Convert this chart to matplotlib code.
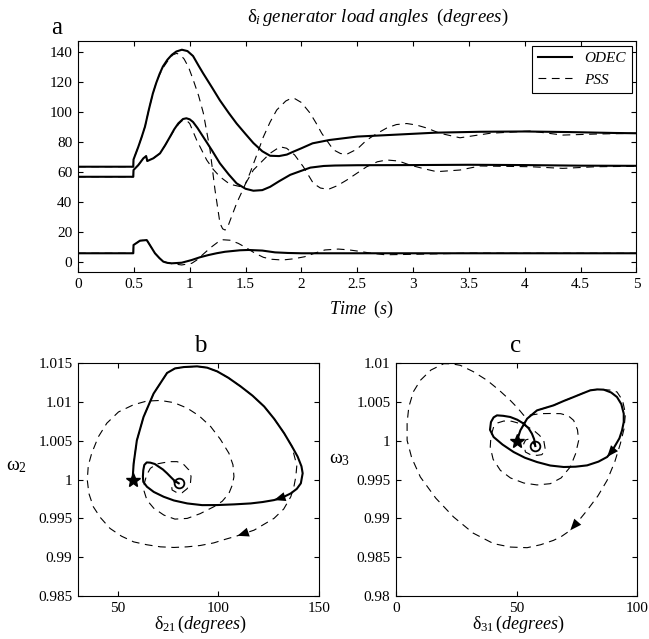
import matplotlib
matplotlib.use("Agg")
import matplotlib.pyplot as plt

plt.rcParams['font.family'] = ['Liberation Serif', 'DejaVu Serif']
plt.rcParams['mathtext.fontset'] = 'custom'
plt.rcParams['mathtext.rm'] = 'Liberation Serif'
plt.rcParams['mathtext.it'] = 'Liberation Serif:italic'
plt.rcParams['xtick.direction'] = 'in'
plt.rcParams['ytick.direction'] = 'in'
plt.rcParams['xtick.top'] = True
plt.rcParams['ytick.right'] = True
plt.rcParams['axes.linewidth'] = 0.8

# ---- panel a: load angles vs time ----
t_up_odec = [0, 0.495, 0.497, 0.54, 0.57, 0.6, 0.635, 0.67, 0.7, 0.73, 0.76, 0.8, 0.84,
             0.88, 0.93, 0.98, 1.03, 1.08, 1.12, 1.2, 1.27, 1.35, 1.42, 1.5, 1.57, 1.65,
             1.72, 1.8, 1.87, 1.93, 2.0, 2.1, 2.25, 2.5, 2.8, 3.2, 3.6, 4.0, 4.4, 4.8, 5.0]
d_up_odec = [63.2, 63.2, 68, 76.5, 83, 90, 101.5, 112, 119, 125, 130, 134.5, 137.8,
             140, 141.2, 140.3, 137, 130.5, 125.5, 116, 107.5, 99, 92, 85, 79, 73.5,
             70.5, 70.3, 71.3, 73.3, 75.5, 78.8, 81, 83.3, 84.4, 85.9, 86.5, 86.7, 86.3,
             85.7, 85.5]

t_mid_odec = [0, 0.495, 0.497, 0.54, 0.585, 0.61, 0.62, 0.674, 0.734, 0.78, 0.824, 0.86,
              0.898, 0.94, 0.97, 1.0, 1.03, 1.07, 1.12, 1.2, 1.27, 1.35, 1.42, 1.5, 1.57,
              1.65, 1.72, 1.8, 1.9, 2.0, 2.08, 2.2, 2.3, 2.5, 3.0, 3.5, 4.0, 4.5, 5.0]
d_mid_odec = [56.5, 56.5, 61, 64.3, 68.8, 70.3, 67, 68.8, 72.1, 77.5, 83.2, 88,
              92.1, 95, 95.5, 94.8, 93, 89, 83.2, 74, 65.5, 58, 52.1, 48.5, 47.2,
              47.6, 49.8, 53.5, 57.8, 60.5, 62.6, 63.7, 64, 64.2, 64.3, 64.5, 64.3, 63.9, 63.8]

t_low_odec = [0, 0.495, 0.497, 0.555, 0.615, 0.62, 0.689, 0.73, 0.764, 0.8, 0.839, 0.928,
              1.018, 1.09, 1.167, 1.24, 1.316, 1.45, 1.525, 1.65, 1.764, 1.88, 2.0, 2.5,
              3.0, 4.0, 5.0]
d_low_odec = [5.5, 5.5, 11, 13.9, 14.3, 13.8, 5.5, 2.2, -0.1, -0.9, -1.2, -0.8,
              1, 2.8, 4.3, 5.5, 6.5, 7.5, 7.7, 7.3, 6.1, 5.7, 5.5, 5.5,
              5.5, 5.5, 5.5]

t_up_pss = [0, 0.495, 0.497, 0.54, 0.57, 0.6, 0.635, 0.67, 0.7, 0.73, 0.76, 0.82, 0.85,
            0.884, 0.92, 0.95, 0.99, 1.032, 1.08, 1.122, 1.182, 1.226, 1.271, 1.295,
            1.317, 1.34, 1.36, 1.421, 1.48, 1.54, 1.6, 1.659, 1.72, 1.779, 1.86, 1.9,
            1.943, 2.0, 2.077, 2.13, 2.182, 2.286, 2.35, 2.406, 2.5, 2.585, 2.68, 2.764,
            2.85, 2.943, 3.03, 3.122, 3.24, 3.42, 3.69, 4.05, 4.34, 4.64, 5.0]
d_up_pss = [63.2, 63.2, 68, 76.5, 83, 90, 101.5, 112, 119, 124.5, 129, 135.5, 137.8,
            138.8, 137.5, 135, 129.5, 121, 110.5, 99, 74.5, 48, 25.5, 21.8,
            21, 23, 27, 39, 48.5, 59, 71, 83, 93, 101, 107, 108.5,
            108.5, 106, 99, 92.5, 85.5, 74.5, 72, 71.5, 75, 81, 85.5, 89,
            91.3, 92, 91, 89, 85.5, 82.5, 85.5, 87, 84.3, 85, 85.5]

t_mid_pss = [0, 0.495, 0.497, 0.54, 0.585, 0.61, 0.62, 0.674, 0.734, 0.78, 0.824, 0.86,
             0.9, 0.93, 0.955, 0.98, 1.0, 1.062, 1.152, 1.21, 1.271, 1.36, 1.45, 1.5,
             1.57, 1.65, 1.719, 1.808, 1.868, 1.94, 2.017, 2.107, 2.17, 2.241, 2.32,
             2.406, 2.5, 2.585, 2.68, 2.764, 2.87, 2.972, 3.09, 3.211, 3.42, 3.6, 4.05,
             4.34, 4.64, 5.0]
d_mid_pss = [56.5, 56.5, 61, 64.3, 68.8, 70.3, 67, 68.8, 72.1, 77.5, 83, 87.5,
             91.5, 93.8, 94.3, 93.5, 92, 81, 67.7, 61.5, 56.5, 51.5, 50, 52,
             61, 67, 72.1, 76.5, 75.5, 71, 63.2, 52.1, 49, 48.1, 50.5,
             54.3, 59, 63.2, 66.5, 67.7, 67, 64.3, 62, 59.9, 61, 63.7, 63.2,
             62.1, 63.2, 63.5]

t_low_pss = [0, 0.495, 0.497, 0.555, 0.615, 0.62, 0.689, 0.73, 0.764, 0.839, 0.928, 1.018,
             1.06, 1.1, 1.15, 1.2, 1.25, 1.3, 1.36, 1.435, 1.51, 1.585, 1.66, 1.734, 1.83,
             1.93, 2.03, 2.12, 2.21, 2.33, 2.42, 2.5, 2.62, 2.75, 3.0, 3.5, 4.0, 5.0]
d_low_pss = [5.5, 5.5, 11, 13.9, 14.3, 13.8, 5.5, 2.2, -0.1, -1.4, -2.3, -1.2,
             0.8, 3.5, 6.8, 10, 12.8, 14.5, 14.2, 12.1, 9, 5.5, 2.8, 1.5, 1,
             1.8, 3.2, 5.6, 7.7, 8.3, 7.8, 7, 5.6, 4.5, 4.8, 5.6, 5.5, 5.5]

time_ticks = [0, 0.5, 1, 1.5, 2, 2.5, 3, 3.5, 4, 4.5, 5]
time_labels = ['0', '0.5', '1', '1.5', '2', '2.5', '3', '3.5', '4', '4.5', '5']
angle_ticks = [0, 20, 40, 60, 80, 100, 120, 140]

# ---- panel b: delta21 / omega2 phase plane ----
b_odec_d = [57.5, 58.0, 59.6, 62.9, 67.9, 74.6, 78.5, 82.9, 89.5, 94.5, 99.5, 105, 111.1,
            117, 122.8, 127.8, 132.7, 136.5, 139.4, 141.3, 141.9, 141.0, 139, 136.0, 132,
            127.7, 122, 116.1, 108, 99.5, 92, 84.6, 78, 72.9, 68, 64.6, 62.8, 62.6, 62.8,
            63.3, 64.5, 66.3, 68.5, 70.4, 72.5, 74.6, 76.5, 77.9, 80.4]
b_odec_w = [1.0, 1.00202, 1.00503, 1.00804, 1.01106, 1.01372, 1.0143, 1.01448, 1.01457,
            1.0144, 1.01392, 1.0131, 1.01199, 1.0108, 1.0094, 1.0078, 1.00596, 1.0043,
            1.00295, 1.0017, 1.0008, 0.99951, 0.9988, 0.99821, 0.9977, 0.99735, 0.9971,
            0.99692, 0.9968, 0.99671, 0.9967, 0.99692, 0.9973, 0.99778, 0.9984, 0.99907,
            0.9997, 1.00037, 1.0012, 1.00187, 1.0022, 1.00217, 1.002, 1.00166, 1.0013,
            1.0008, 1.0003, 0.99994, 0.99951]
b_pss_d = [57.5, 58.0, 59.6, 62.9, 67.9, 74.6, 78.5, 82.9, 89.5, 94.5, 99.5, 105, 111.1,
           117, 122.8, 127.8, 132.7, 136.5, 139.0, 138.5, 137.5, 136.0, 132.5, 127.7,
           122.5, 117.8, 109.5, 103.5, 97.8, 91, 84.6, 78, 71.3, 64.5, 58.0, 52, 46.3,
           41.5, 38.0, 35.8, 35.0, 35.5, 37.2, 40.5, 44.7, 50.5, 57.9, 64.5, 71.3, 78,
           84.6, 90.5, 96.2, 101, 105.3, 107.3, 107.8, 107, 105.3, 102, 97.8, 91, 84.6,
           78.5, 73.0, 68, 64.6, 63.2, 63.3, 64.5, 66.3, 69.5, 72.9, 76.5, 79.6, 83, 85.4,
           86.5, 86.2, 84.5, 82.1, 79.5, 77.1, 76.8, 77.9, 80.4]
b_pss_w = [1.0, 1.00202, 1.00503, 1.00804, 1.01106, 1.01372, 1.0143, 1.01448, 1.01457,
           1.0144, 1.01392, 1.0131, 1.01199, 1.0108, 1.0094, 1.0078, 1.00596, 1.0043,
           1.0018, 1.00037, 0.999, 0.99778, 0.9962, 0.995, 0.9942, 0.99348, 0.99275,
           0.9923, 0.99184, 0.9915, 0.99133, 0.99125, 0.99133, 0.9916, 0.99197, 0.9927,
           0.9937, 0.9951, 0.99649, 0.9982, 0.99994, 1.0018, 1.00338, 1.0055, 1.00725,
           1.0087, 1.00962, 1.0101, 1.01018, 1.0099, 1.00919, 1.0082, 1.00683, 1.0052,
           1.00338, 1.0019, 1.00037, 0.9993, 0.99821, 0.9972, 0.99649, 0.9956, 0.99499,
           0.9949, 0.99542, 0.9963, 0.99735, 0.9985, 0.9995, 1.0006, 1.00144, 1.002,
           1.00217, 1.0023, 1.0023, 1.0019, 1.00123, 1.0004, 0.99951, 0.9988, 0.9983,
           0.9983, 0.99865, 0.9993, 0.99972, 0.99951]
b_odec_arrow = 25
b_pss_arrow = 26
b_xticks = [50, 100, 150]
b_yticks = [0.985, 0.99, 0.995, 1.0, 1.005, 1.01, 1.015]
b_ylabels = ['0.985', '0.99', '0.995', '1', '1.005', '1.01', '1.015']

# ---- panel c: delta31 / omega3 phase plane ----
c_odec_d = [50.2, 51.6, 54.4, 58.5, 65.4, 69.5, 73.7, 77.5, 80.6, 83.5, 86.2, 89.3, 91.7,
            93.5, 94.5, 94.5, 93.8, 92.7, 91.0, 89.5, 87.6, 84, 79.3, 74.5, 69.6, 64,
            58.5, 53.5, 48.8, 44.2, 40.5, 39.0, 39.4, 40.5, 41.9, 44.5, 47.4, 50.3, 53.0,
            55.0, 56.4, 57.3, 57.8]
c_odec_w = [1.0, 1.00133, 1.00283, 1.0039, 1.00455, 1.0051, 1.00562, 1.0061, 1.00648,
            1.0066, 1.00657, 1.0062, 1.00562, 1.0047, 1.00348, 1.0024, 1.00133, 1.0003,
            0.9994, 0.9986, 0.9979, 0.9973, 0.99682, 0.99665, 0.99661, 0.9968, 0.99725,
            0.9978, 0.99854, 0.9995, 1.00047, 1.0014, 1.0024, 1.003, 1.00326, 1.0032,
            1.00305, 1.0027, 1.00219, 1.0016, 1.0009, 1.0002, 0.99931]
c_pss_d = [50.2, 51.6, 54.4, 58.5, 65.4, 69.5, 73.7, 77.5, 80.6, 83.5, 86.2, 89.5, 91.7,
           94, 95.2, 94.6, 93.1, 90.8, 87.6, 83.8, 79.3, 75.8, 72.3, 68.8, 65.4, 60, 54.4,
           47.5, 40.5, 32, 23.9, 16.5, 10.1, 6.5, 4.6, 4.6, 5.3, 7.2, 10.1, 14.5, 19.8,
           23, 26.7, 32, 37.8, 42.8, 47.4, 50.5, 53.0, 56, 59.9, 64, 68.3, 71.5, 73.7,
           75.3, 75.8, 74.5, 72.3, 68.5, 64.0, 58.5, 53.0, 47.5, 43.3, 40.3, 39.1, 39.4,
           40.5, 42.3, 44.7, 48, 51.6, 54.5, 57.1, 59.5, 61.3, 62, 60.5, 58.5, 55.8,
           53.7, 53.0, 53.8, 55.7, 57.8]
c_pss_w = [1.0, 1.00133, 1.00283, 1.0039, 1.00455, 1.0051, 1.00562, 1.0061, 1.00648,
           1.0066, 1.00657, 1.0065, 1.00627, 1.0052, 1.00348, 1.0015, 0.99961, 0.9973,
           0.99489, 0.9929, 0.99103, 0.9897, 0.98845, 0.9877, 0.98717, 0.9866, 0.98622,
           0.9863, 0.98674, 0.9881, 0.99017, 0.9926, 0.99532, 0.9978, 1.00004, 1.0023,
           1.00433, 1.0063, 1.00777, 1.0091, 1.00991, 1.0099, 1.0097, 1.0089, 1.00777,
           1.0065, 1.00519, 1.0042, 1.00326, 1.0033, 1.00348, 1.0035, 1.00348, 1.0032,
           1.00262, 1.0014, 1.00004, 0.9983, 0.99661, 0.9952, 0.99446, 0.9943, 0.99455,
           0.9952, 0.99618, 0.9976, 0.99918, 1.0006, 1.00176, 1.0023, 1.00253, 1.0025,
           1.00219, 1.0018, 1.00133, 1.0007, 1.00004, 0.99876, 0.9982, 0.99811, 0.9982,
           0.99854, 0.99961, 1.0001, 1.00026, 0.99931]
c_odec_arrow = 20
c_pss_arrow = 22
c_xticks = [0, 50, 100]
c_yticks = [0.98, 0.985, 0.99, 0.995, 1.0, 1.005, 1.01]
c_ylabels = ['0.98', '0.985', '0.99', '0.995', '1', '1.005', '1.01']

solid = dict(color='black', lw=1.5)
dashed = dict(color='black', lw=0.8, dashes=(7, 5))
tick_fs = 11


def style_axes(ax):
    ax.tick_params(labelsize=tick_fs, length=3.5, width=0.8, pad=4)
    for s in ax.spines.values():
        s.set_linewidth(0.8)


def arrow(ax, xs, ys, i):
    # arrow head only, pointing along the path at point i
    ax.annotate('', xy=(xs[i], ys[i]), xytext=(xs[i - 1], ys[i - 1]),
                arrowprops=dict(arrowstyle='-|>,head_length=0.55,head_width=0.22',
                                color='black', lw=0, mutation_scale=15,
                                shrinkA=0, shrinkB=0))


fig = plt.figure(figsize=(6.49, 6.39), dpi=100)

# panel a
ax = fig.add_axes([0.1202, 0.5736, 0.8605, 0.3622])
l1, = ax.plot(t_up_odec, d_up_odec, **solid)
ax.plot(t_mid_odec, d_mid_odec, **solid)
ax.plot(t_low_odec, d_low_odec, **solid)
l2, = ax.plot(t_up_pss, d_up_pss, **dashed)
ax.plot(t_mid_pss, d_mid_pss, **dashed)
ax.plot(t_low_pss, d_low_pss, **dashed)
ax.set_xlim(0, 5)
ax.set_ylim(-7.3, 147)
ax.set_xticks(time_ticks)
ax.set_xticklabels(time_labels)
ax.set_yticks(angle_ticks)
style_axes(ax)
ax.set_xlabel(r'$\mathit{Time\ \ (s)}$', fontsize=13)
ax.xaxis.set_label_coords(0.508, -0.115)
ax.text(0.537, 1.104, r'$\mathrm{\delta}_{\mathit{i}}\,\mathit{generator\ load\ angles\ \ (degrees)}$',
        transform=ax.transAxes, ha='center', va='center', fontsize=13.5)
ax.text(-0.039, 1.03, 'a', transform=ax.transAxes, ha='center', va='baseline', fontsize=18)
leg = ax.legend([l1, l2], ['ODEC', 'PSS'], loc='upper right', fancybox=False,
                edgecolor='black', framealpha=1, handlelength=2.2,
                prop={'style': 'italic', 'size': 11}, borderaxespad=0.3)
leg.get_frame().set_linewidth(0.8)

# panel b
ax = fig.add_axes([0.1202, 0.0673, 0.3713, 0.3646])
ax.plot(b_odec_d, b_odec_w, **solid)
ax.plot(b_pss_d, b_pss_w, **dashed)
arrow(ax, b_odec_d, b_odec_w, b_odec_arrow)
arrow(ax, b_pss_d, b_pss_w, b_pss_arrow)
ax.plot(b_odec_d[0], b_odec_w[0], marker='*', color='black', ms=10)
ax.plot(b_odec_d[-1], b_odec_w[-1], marker='o', mfc='none', mec='black', mew=1.3, ms=7)
ax.set_xlim(30.4, 150)
ax.set_ylim(0.985, 1.015)
ax.set_xticks(b_xticks)
ax.set_yticks(b_yticks)
ax.set_yticklabels(b_ylabels)
style_axes(ax)
ax.set_xlabel(r'$\mathrm{\delta}_{\mathit{21}}\,\mathit{(degrees)}$', fontsize=13)
ax.xaxis.set_label_coords(0.51, -0.078)
ax.set_ylabel(r'$\mathrm{\omega}_{2}$', fontsize=14, rotation=0)
ax.yaxis.set_label_coords(-0.257, 0.52)
ax.text(0.506, 1.047, 'b', transform=ax.transAxes, ha='center', va='baseline', fontsize=18)

# panel c
ax = fig.add_axes([0.6102, 0.0673, 0.3713, 0.3646])
ax.plot(c_odec_d, c_odec_w, **solid)
ax.plot(c_pss_d, c_pss_w, **dashed)
arrow(ax, c_odec_d, c_odec_w, c_odec_arrow)
arrow(ax, c_pss_d, c_pss_w, c_pss_arrow)
ax.plot(c_odec_d[0], c_odec_w[0], marker='*', color='black', ms=10)
ax.plot(c_odec_d[-1], c_odec_w[-1], marker='o', mfc='none', mec='black', mew=1.3, ms=7)
ax.set_xlim(0, 100)
ax.set_ylim(0.98, 1.01)
ax.set_xticks(c_xticks)
ax.set_yticks(c_yticks)
ax.set_yticklabels(c_ylabels)
style_axes(ax)
ax.set_xlabel(r'$\mathrm{\delta}_{\mathit{31}}\,\mathit{(degrees)}$', fontsize=13)
ax.xaxis.set_label_coords(0.51, -0.078)
ax.set_ylabel(r'$\mathrm{\omega}_{3}$', fontsize=14, rotation=0)
ax.yaxis.set_label_coords(-0.232, 0.55)
ax.text(0.498, 1.047, 'c', transform=ax.transAxes, ha='center', va='baseline', fontsize=18)

fig.savefig('out.png', dpi=100)
